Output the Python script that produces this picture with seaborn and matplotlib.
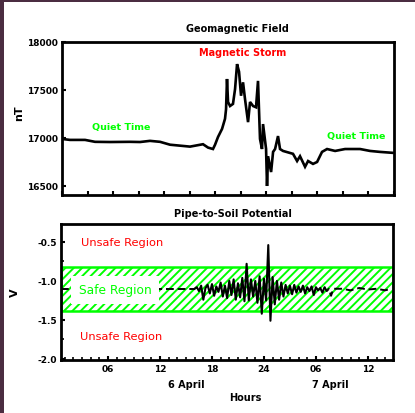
import matplotlib
matplotlib.use("Agg")
import matplotlib.pyplot as plt
from matplotlib.patches import Rectangle
from matplotlib.ticker import FixedLocator
import numpy as np
import pandas as pd
import seaborn as sns

# ---------------- data ----------------
# Geomagnetic field (nT) vs hours since 00 on 6 April
geo_hours = [0.57, 1.49, 3.23, 4.38, 6.11, 8.42, 9.58, 10.73, 11.89, 13.04, 14.2, 15.35,
             16.85, 17.43, 18.0, 18.24, 18.58, 19.05, 19.39, 19.51, 19.62, 19.74, 19.97,
             20.31, 20.55, 20.78, 21.01, 21.24, 21.47, 21.7, 22.05, 22.28, 22.63, 22.97,
             23.2, 23.43, 23.66, 23.78, 24.13, 24.24, 24.36, 24.71, 24.94, 25.17, 25.51,
             25.74, 26.09, 27.24, 27.71, 28.05, 28.63, 28.98, 29.55, 30.02, 30.59, 31.17,
             32.1, 33.25, 34.98, 36.14, 37.29, 38.79]
geo_nt = [16990, 16980, 16980, 16960, 16958, 16960, 16958, 16970, 16960, 16930, 16920, 16910,
          16935, 16900, 16885, 16930, 17010, 17095, 17200, 17300, 17615, 17375, 17333,
          17355, 17510, 17770, 17690, 17440, 17580, 17405, 17165, 17375, 17333, 17320,
          17595, 16990, 16885, 17145, 16885, 16500, 16810, 16645, 16855, 16885, 17020,
          16885, 16865, 16835, 16760, 16810, 16700, 16760, 16730, 16750, 16855, 16885,
          16865, 16885, 16885, 16865, 16855, 16845]

# Pipe-to-soil potential (V)
psp_hours = [0.6, 4.0, 8.0, 12.0, 15.0,
             16.0, 16.25, 16.5, 16.75, 17.0, 17.25, 17.5, 17.75, 18.0, 18.25, 18.5, 18.75,
             19.0, 19.25, 19.5, 19.75, 20.0, 20.25, 20.5, 20.75, 21.0, 21.25, 21.5, 21.75,
             22.0, 22.25, 22.5, 22.75, 23.0, 23.25, 23.5, 23.75, 24.0, 24.25, 24.5, 24.75,
             25.0, 25.25, 25.5, 25.75, 26.0, 26.25, 26.5, 26.75, 27.0, 27.25, 27.5, 27.75,
             28.0, 28.25, 28.5, 28.75, 29.0, 29.25, 29.5, 29.75, 30.0, 30.25, 30.5, 30.75,
             31.0, 31.25, 31.5, 31.75, 32.0,
             33.0, 34.0, 35.0, 36.0, 37.0, 38.0, 38.7]
psp_volts = [-1.10, -1.10, -1.10, -1.10, -1.10,
             -1.10, -1.08, -1.13, -1.06, -1.24, -1.09, -1.05, -1.16, -1.04, -1.19, -1.07, -1.14,
             -1.02, -1.20, -1.06, -1.22, -1.00, -1.18, -0.98, -1.24, -1.03, -1.21, -0.96, -1.26,
             -0.78, -1.25, -0.98, -1.20, -1.00, -1.28, -0.94, -1.42, -0.97, -1.25, -0.54, -1.51,
             -0.95, -1.30, -1.00, -1.24, -1.02, -1.20, -1.05, -1.16, -1.06, -1.17, -1.05, -1.15,
             -1.07, -1.14, -1.06, -1.16, -1.08, -1.13, -1.07, -1.18, -1.08, -1.12, -1.09, -1.15,
             -1.08, -1.13, -1.10, -1.19, -1.10,
             -1.10, -1.12, -1.09, -1.11, -1.10, -1.12, -1.10]

safe_low, safe_high = -1.38, -0.82

geo_yticks = [16500, 17000, 17500, 18000]
geo_yticklabels = ["16500", "17000", "17500", "18000"]
psp_yticks = [-0.5, -1.0, -1.5, -2.0]
psp_yticklabels = ["-0.5", "-1.0", "-1.5", "-2.0"]
hour_ticks = [6, 12, 18, 24, 30, 36]
hour_ticklabels = ["06", "12", "18", "24", "06", "12"]
day_labels = [("6 April", 15.0), ("7 April", 31.7)]

geo_df = pd.DataFrame({"hours": geo_hours, "nT": geo_nt})
psp_df = pd.DataFrame({"hours": psp_hours, "V": psp_volts})

# ---------------- style ----------------
sns.set_style("ticks")
plt.rcParams["font.family"] = ["DejaVu Sans"]
plt.rcParams["hatch.linewidth"] = 1.4
for key in ("text.color", "axes.labelcolor", "xtick.color", "ytick.color"):
    plt.rcParams[key] = "black"

GREEN = "#00ff00"
RED = "#ff0000"
BORDER = "#4b2d41"

fig = plt.figure(figsize=(4.15, 4.14), dpi=100)
fig.patch.set_facecolor("white")

W, H = 415, 414
ax1 = fig.add_axes([62 / W, 1 - 196 / H, 332 / W, 153 / H])
ax2 = fig.add_axes([61 / W, 1 - 361 / H, 332 / W, 136 / H])

XMIN, XMAX = 0.57, 38.9

# ---- top: geomagnetic field ----
sns.lineplot(data=geo_df, x="hours", y="nT", ax=ax1, color="black", lw=1.9,
             estimator=None, sort=False, solid_joinstyle="miter")
ax1.set_xlim(XMIN, XMAX)
ax1.set_ylim(16406, 18000)
ax1.set_yticks(geo_yticks)
ax1.set_yticklabels(geo_yticklabels, fontsize=6.5, fontweight="bold")
ax1.set_xticks(np.linspace(XMIN, XMAX, 14))
ax1.set_xticklabels([])
ax1.set_xlabel("")
ax1.set_ylabel("nT", fontsize=8, fontweight="bold")
ax1.yaxis.set_label_coords(-0.115, 0.54)
ax1.set_title("Geomagnetic Field", fontsize=7, fontweight="bold", x=0.527, pad=8,
              color="black")
ax1.text(21.47, 17896, "Magnetic Storm", color=RED, fontsize=7, fontweight="bold",
         ha="center", va="center")
ax1.text(7.38, 17115, "Quiet Time", color=GREEN, fontsize=6.8, fontweight="bold",
         ha="center", va="center")
ax1.text(34.5, 17031, "Quiet Time", color=GREEN, fontsize=6.8, fontweight="bold",
         ha="center", va="center")

# ---- bottom: pipe-to-soil potential ----
ax2.axhspan(safe_low, safe_high, facecolor="white", edgecolor=GREEN, hatch="////",
            lw=1.8, zorder=1)
quiet = psp_df[psp_df["hours"] <= 16.0]
late = psp_df[psp_df["hours"] >= 31.0]
storm = psp_df[(psp_df["hours"] >= 16.0) & (psp_df["hours"] <= 31.0)]
sns.lineplot(data=quiet, x="hours", y="V", ax=ax2, color="black", lw=1.4,
             linestyle=(0, (4, 2)), estimator=None, sort=False, zorder=3)
sns.lineplot(data=late, x="hours", y="V", ax=ax2, color="black", lw=1.4,
             linestyle=(0, (4, 2)), estimator=None, sort=False, zorder=3)
sns.lineplot(data=storm, x="hours", y="V", ax=ax2, color="black", lw=1.5,
             estimator=None, sort=False, zorder=3)
ax2.set_xlim(XMIN, XMAX)
ax2.set_ylim(-2.013, -0.27)
ax2.set_yticks(psp_yticks)
ax2.set_yticklabels(psp_yticklabels, fontsize=6.5, fontweight="bold")
ax2.yaxis.set_minor_locator(FixedLocator([-0.75, -1.25, -1.75]))
ax2.set_xticks(hour_ticks)
ax2.set_xticklabels(hour_ticklabels, fontsize=6.5, fontweight="bold")
ax2.xaxis.set_minor_locator(FixedLocator(list(range(1, 39))))
ax2.set_xlabel("Hours", fontsize=7, fontweight="bold")
ax2.xaxis.set_label_coords(0.554, -0.235)
ax2.set_ylabel("V", fontsize=8, fontweight="bold")
ax2.yaxis.set_label_coords(-0.125, 0.5)
ax2.set_title("Pipe-to-Soil Potential", fontsize=7, fontweight="bold", x=0.518, pad=6,
              color="black")
for lab, xh in day_labels:
    ax2.text(xh, -0.175, lab, transform=ax2.get_xaxis_transform(), fontsize=7,
             fontweight="bold", ha="center", va="center")
ax2.text(7.6, -0.5, "Unsafe Region", color=RED, fontsize=8.2, ha="center", va="center")
ax2.text(7.5, -1.705, "Unsafe Region", color=RED, fontsize=8.2, ha="center", va="center")
ax2.text(6.8, -1.115, "Safe Region", color=GREEN, fontsize=8.8, ha="center", va="center",
         zorder=5,
         bbox=dict(boxstyle="square,pad=0.62", facecolor="white", edgecolor="none"))

for ax in (ax1, ax2):
    for sp in ax.spines.values():
        sp.set_visible(True)
        sp.set_linewidth(2.0)
        sp.set_color("black")
        sp.set_zorder(6)
    ax.tick_params(which="major", direction="in", length=3, width=1.5, pad=3,
                   colors="black")
    ax.tick_params(which="minor", direction="in", length=2, width=1.2, colors="black")
    ax.set_facecolor("white")

# purple frame strips (left and top)
fig.patches.append(Rectangle((0, 0), 4 / W, 1, transform=fig.transFigure,
                             facecolor=BORDER, edgecolor="none", zorder=10))
fig.patches.append(Rectangle((0, 1 - 3 / H), 1, 3 / H, transform=fig.transFigure,
                             facecolor=BORDER, edgecolor="none", zorder=10))

fig.savefig("out.png", dpi=100)
